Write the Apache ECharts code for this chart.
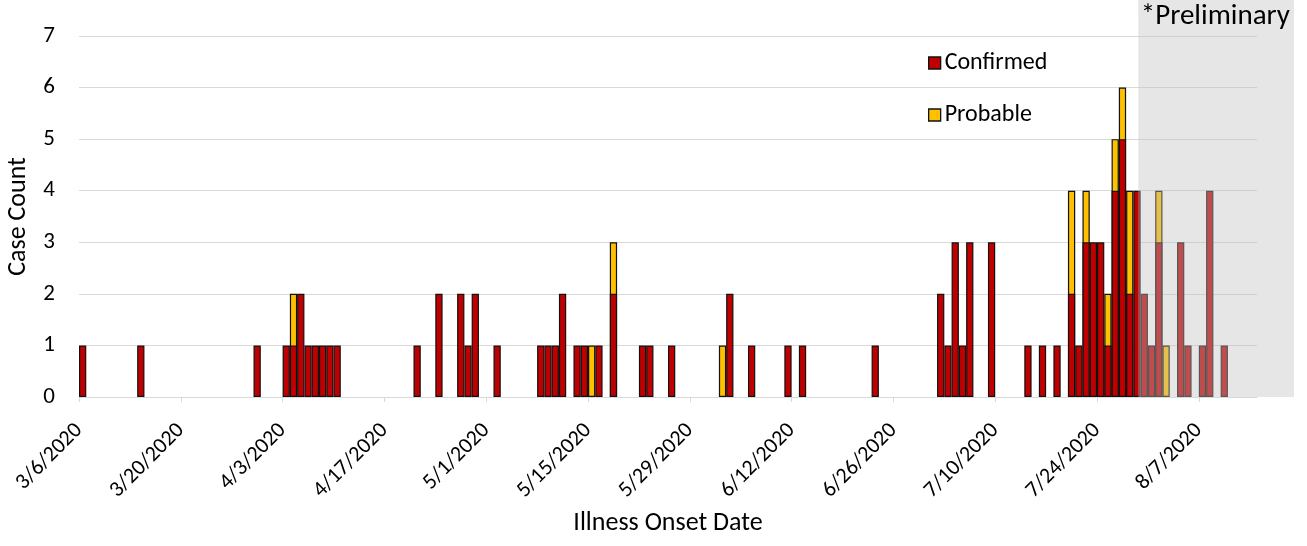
<!DOCTYPE html>
<html><head><meta charset="utf-8">
<script src="https://cdn.jsdelivr.net/npm/echarts@6/dist/echarts.min.js"></script>
<style>html,body{margin:0;padding:0;background:#fff}#c{width:1307px;height:546px}</style>
</head><body><div id="c"></div>
<script>
// ---- data ----
const axisStart = '2020-03-06';
const axisEnd = '2020-08-15';
const prelimStart = '2020-07-29T16:00:00Z';
const onsetDates = ['2020-03-06','2020-03-14','2020-03-30','2020-04-03','2020-04-04','2020-04-05','2020-04-06','2020-04-07','2020-04-08','2020-04-09','2020-04-10',
 '2020-04-21','2020-04-24','2020-04-27','2020-04-28','2020-04-29','2020-05-02','2020-05-08','2020-05-09','2020-05-10','2020-05-11','2020-05-13','2020-05-14','2020-05-15','2020-05-16','2020-05-18',
 '2020-05-22','2020-05-23','2020-05-26','2020-06-02','2020-06-03','2020-06-06','2020-06-11','2020-06-13','2020-06-23','2020-07-02','2020-07-03','2020-07-04','2020-07-05','2020-07-06','2020-07-09',
 '2020-07-14','2020-07-16','2020-07-18','2020-07-20','2020-07-21','2020-07-22','2020-07-23','2020-07-24','2020-07-25','2020-07-26','2020-07-27','2020-07-28','2020-07-29','2020-07-30','2020-07-31',
 '2020-08-01','2020-08-02','2020-08-04','2020-08-05','2020-08-07','2020-08-08','2020-08-10'];
const confirmed = [1,1,1,1,1,2,1,1,1,1,1,
 1,2,2,1,2,1,1,1,1,2,1,1,0,1,2,
 1,1,1,0,2,1,1,1,1,2,1,3,1,3,3,
 1,1,1,2,1,3,3,3,1,4,5,2,4,2,1,
 3,0,3,1,1,4,1];
const probable = [0,0,0,0,1,0,0,0,0,0,0,
 0,0,0,0,0,0,0,0,0,0,0,0,1,0,1,
 0,0,0,1,0,0,0,0,0,0,0,0,0,0,0,
 0,0,0,2,0,1,0,0,1,1,1,2,0,0,0,
 1,1,0,0,0,0,0];
const tickLabels = ['3/6/2020','3/20/2020','4/3/2020','4/17/2020','5/1/2020','5/15/2020','5/29/2020','6/12/2020','6/26/2020','7/10/2020','7/24/2020','8/7/2020'];

// ---- helpers ----
const DAY = 86400000;
const t0 = Date.parse(axisStart + 'T00:00:00Z');
const dayOf = s => (Date.parse(s.length > 10 ? s : s + 'T00:00:00Z') - t0) / DAY;
const labelDay = l => { const [m, d, y] = l.split('/').map(Number); return (Date.UTC(y, m - 1, d) - t0) / DAY; };
const tickDays = tickLabels.map(labelDay);
const labelMap = {}; tickLabels.forEach((l, i) => labelMap[tickDays[i]] = l);

const FONT = 'Carlito, Lato, sans-serif';
const RED = '#C00000', YEL = '#FFC000';
// probable sits on top of confirmed: drawn as the day's total behind the confirmed bar
const confData = confirmed.map((v, i) => [dayOf(onsetDates[i]) + 0.5, v === 0 ? '-' : v]);
const probData = probable.map((v, i) => [dayOf(onsetDates[i]) + 0.5, v === 0 ? '-' : v + confirmed[i]]);

const chart = echarts.init(document.getElementById('c'), null, {renderer: 'canvas'});
chart.setOption({
  animation: false,
  textStyle: {fontFamily: FONT, color: '#000'},
  grid: {left: 79, right: 50, top: 36, bottom: 149, containLabel: false, outerBoundsMode: 'none'},
  legend: {
    orient: 'vertical', left: 923, top: 46, itemGap: 28, itemWidth: 12, itemHeight: 12,
    icon: 'rect', textStyle: {fontFamily: FONT, fontSize: 24, color: '#000', padding: [0,0,0,-1]},
    itemStyle: {borderColor: '#111', borderWidth: 1.3},
    data: ['Confirmed', 'Probable']
  },
  xAxis: {
    type: 'value', min: 0, max: dayOf(axisEnd), interval: 14,
    name: 'Illness Onset Date', nameLocation: 'middle', nameGap: 113,
    nameTextStyle: {fontFamily: FONT, fontSize: 26, color: '#000'},
    axisLine: {show: true, lineStyle: {color: '#d9d9d9', width: 1}},
    axisTick: {show: true, length: 5, lineStyle: {color: '#d9d9d9'}, customValues: tickDays},
    axisLabel: {rotate: 45, margin: 30, padding: [51, 0, 0, 0], fontFamily: FONT, fontSize: 22, color: '#000',
      customValues: tickDays, formatter: v => labelMap[v] || ''},
    splitLine: {show: false}
  },
  yAxis: {
    type: 'value', min: 0, max: 7, interval: 1,
    name: 'Case Count', nameLocation: 'middle', nameGap: 48,
    nameTextStyle: {fontFamily: FONT, fontSize: 26, color: '#000'},
    axisLine: {show: false}, axisTick: {show: false},
    axisLabel: {margin: 24, fontFamily: FONT, fontSize: 23, color: '#000'},
    splitLine: {lineStyle: {color: '#d9d9d9', width: 1}}
  },
  series: [
    {name: 'Probable', type: 'bar', barWidth: '100%', barGap: '-100%', data: probData,
     itemStyle: {color: YEL, borderColor: '#111', borderWidth: 1.2}},
    {name: 'Confirmed', type: 'bar', barWidth: '100%', barGap: '-100%', data: confData,
     itemStyle: {color: RED, borderColor: '#111', borderWidth: 1.2}}
  ]
});

const x0 = chart.convertToPixel({xAxisIndex: 0}, dayOf(prelimStart));
const yBase = chart.convertToPixel({yAxisIndex: 0}, 0);
const W = chart.getWidth();
chart.setOption({
  graphic: [
    {type: 'rect', z: 100, silent: true, shape: {x: x0, y: 0, width: W - 13 - x0, height: yBase},
     style: {fill: 'rgba(192,192,192,0.4)'}},
    {type: 'text', z: 101, silent: true, right: 17, top: 2,
     style: {text: '*Preliminary', font: '29px ' + FONT, fill: '#000'}}
  ]
});
</script></body></html>
